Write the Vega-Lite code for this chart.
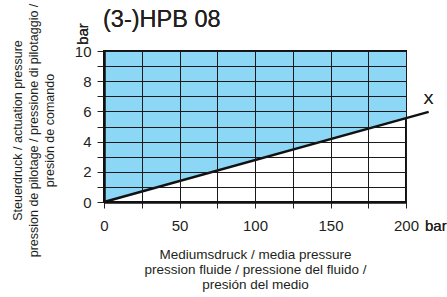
{
  "$schema": "https://vega.github.io/schema/vega-lite/v6.json",
  "width": 302,
  "height": 151,
  "autosize": "none",
  "padding": {"left": 104, "top": 51, "right": 41, "bottom": 95},
  "background": "white",
  "config": {
    "font": "Liberation Sans",
    "view": {"stroke": "#111", "strokeWidth": 2}
  },
  "data": {
    "values": [
      {"medium": 0, "steuer": 0},
      {"medium": 215, "steuer": 5.97}
    ]
  },
  "resolve": {"axis": {"x": "independent", "y": "independent"}},
  "layer": [
    {
      "mark": {"type": "area", "color": "#8dd7f6", "clip": true, "opacity": 1},
      "encoding": {
        "x": {
          "field": "medium",
          "type": "quantitative",
          "scale": {"domain": [0, 200], "nice": false, "zero": false},
          "axis": {
            "values": [0, 25, 50, 75, 100, 125, 150, 175, 200],
            "labelExpr": "datum.value % 50 == 0 ? datum.label : ''",
            "grid": true,
            "gridColor": "#1a1a1a",
            "gridWidth": 1,
            "gridOpacity": 1,
            "domainColor": "#111",
            "domainWidth": 2.5,
            "tickColor": "#222",
            "tickSize": 6,
            "tickWidth": 1,
            "labelFontSize": 15,
            "labelFontWeight": "normal",
            "labelColor": "#231f20",
            "labelPadding": 10,
            "labelFont": "Liberation Sans",
            "labelOverlap": false,
            "labelFlush": false,
            "zindex": 1,
            "title": ["Mediumsdruck / media pressure", "pression fluide / pressione del fluido /", "presión del medio"],
            "titleFontSize": 13.5,
            "titleFontWeight": "normal",
            "titleColor": "#231f20",
            "titleFont": "Liberation Sans",
            "titleLineHeight": 15,
            "titleX": 151,
            "titleY": 52,
            "titleBaseline": "middle",
            "titleAlign": "center"
          }
        },
        "y": {
          "field": "steuer",
          "type": "quantitative",
          "scale": {"domain": [0, 10], "nice": false},
          "axis": {
            "values": [0, 1, 2, 3, 4, 5, 6, 7, 8, 9, 10],
            "labelExpr": "datum.value % 2 == 0 ? datum.label : ''",
            "grid": true,
            "gridColor": "#1a1a1a",
            "gridWidth": 1,
            "gridOpacity": 1,
            "domainColor": "#111",
            "domainWidth": 2.5,
            "tickColor": "#222",
            "tickSize": 7,
            "tickWidth": 1,
            "labelFontSize": 15,
            "labelFontWeight": "normal",
            "labelColor": "#231f20",
            "labelPadding": 6,
            "labelFont": "Liberation Sans",
            "labelOverlap": false,
            "labelFlush": false,
            "zindex": 1,
            "title": ["Steuerdruck / actuation pressure", "pression de pilotage / pressione di pilotaggio /", "presión de comando"],
            "titleFontSize": 12.5,
            "titleFontWeight": "normal",
            "titleColor": "#231f20",
            "titleFont": "Liberation Sans",
            "titleLineHeight": 16,
            "titleX": -87,
            "titleY": 79,
            "titleAngle": -90,
            "titleBaseline": "middle",
            "titleAlign": "center"
          }
        },
        "y2": {"datum": 10}
      }
    },
    {
      "mark": {"type": "line", "color": "#111", "strokeWidth": 2.5, "clip": false},
      "encoding": {
        "x": {"field": "medium", "type": "quantitative", "axis": null},
        "y": {"field": "steuer", "type": "quantitative", "axis": null}
      }
    },
    {
      "mark": {"type": "text", "text": "X", "fontSize": 15, "fontWeight": "normal", "font": "Liberation Sans", "color": "#231f20", "align": "center", "baseline": "middle", "dx": 22.5, "dy": -18.5},
      "encoding": {
        "x": {"datum": 200, "type": "quantitative", "axis": null},
        "y": {"datum": 5.6, "type": "quantitative", "axis": null}
      }
    },
    {
      "mark": {"type": "text", "text": "bar", "fontSize": 15, "fontWeight": "normal", "font": "Liberation Sans", "color": "#231f20", "align": "left", "baseline": "middle", "dx": 19, "dy": 24},
      "encoding": {
        "x": {"datum": 200, "type": "quantitative", "axis": null},
        "y": {"datum": 0, "type": "quantitative", "axis": null}
      }
    },
    {
      "mark": {"type": "text", "text": "bar", "fontSize": 15, "fontWeight": "normal", "font": "Liberation Sans", "color": "#231f20", "align": "center", "baseline": "middle", "angle": 270, "dx": 17, "dy": -21},
      "encoding": {
        "x": {"datum": 0, "type": "quantitative", "axis": null},
        "y": {"datum": 10, "type": "quantitative", "axis": null}
      }
    },
    {
      "mark": {"type": "text", "text": "(3-)HPB 08", "fontSize": 23.5, "fontWeight": "normal", "font": "Liberation Sans", "color": "#231f20", "align": "left", "baseline": "alphabetic", "dx": -1, "dy": -24},
      "encoding": {
        "x": {"datum": 0, "type": "quantitative", "axis": null},
        "y": {"datum": 10, "type": "quantitative", "axis": null}
      }
    }
  ]
}
